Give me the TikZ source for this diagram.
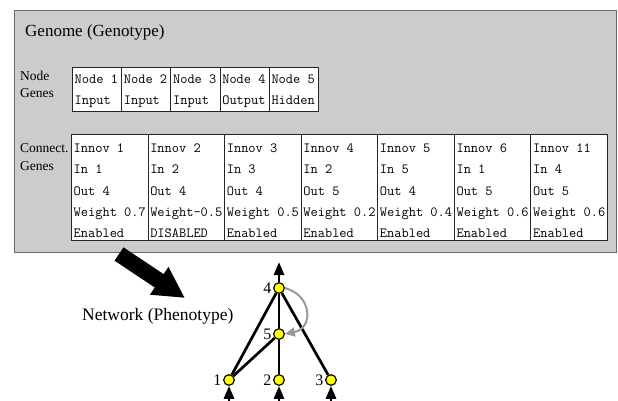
\documentclass[tikz,border=0pt]{standalone}
\usepackage{fontspec}
\setmainfont{Liberation Serif}
\usetikzlibrary{arrows.meta}
\definecolor{boxgray}{HTML}{CCCCCC}
\definecolor{edgegray}{HTML}{6A6A6A}
\definecolor{recgray}{HTML}{999999}
\definecolor{neuronyellow}{HTML}{FFFF00}
\begin{document}
\begin{tikzpicture}[x=1pt,y=-1pt,
  genomebox/.style={draw=edgegray,line width=0.9pt,fill=boxgray,inner sep=0,anchor=north west},
  cellbox/.style={draw=black!85,line width=0.8pt,fill=white,inner sep=0,anchor=north west},
  mono/.style={font=\ttfamily\fontsize{14}{16}\selectfont,inner sep=0,anchor=base west},
  sidelbl/.style={font=\fontsize{13.5}{16}\selectfont,inner sep=0,anchor=base west},
  titletxt/.style={font=\fontsize{17}{20}\selectfont,inner sep=0,anchor=base west},
  nettxt/.style={font=\fontsize{17.5}{20}\selectfont,inner sep=0,anchor=base west},
  neuron/.style={circle,fill=neuronyellow,draw=black,line width=0.8pt,minimum size=11pt,inner sep=0},
  numlbl/.style={font=\fontsize{16}{18}\selectfont,inner sep=0,label distance=1.5pt},
  edge/.style={draw=black,line width=2.7pt},
  tipup/.style={-{Triangle[length=13pt,width=10pt]}},
  recur/.style={draw=recgray,line width=2pt,-{Triangle[length=10pt,width=9pt]}},
  bigarrow/.style={draw=black,line width=16pt,-{Triangle[length=31pt,width=31pt]}}
]
\fill[white] (0,0) rectangle (618,401);
\useasboundingbox (0,0) rectangle (618,401);

% genome container
\node[genomebox,minimum width=602pt,minimum height=242pt] (genome) at (14,10) {};
\node[titletxt] (title) at (25,37) {Genome (Genotype)};

% node genes
\node[sidelbl] (nglbl1) at (20,81) {Node};
\node[sidelbl] (nglbl2) at (20,98) {Genes};
\foreach \a/\b [count=\k] in {Node 1/Input,Node 2/Input,Node 3/Input,Node 4/Output,Node 5/Hidden}{
  \pgfmathsetmacro\xl{72+(\k-1)*49.2}
  \node[cellbox,minimum width=49.2pt,minimum height=44pt] (ng\k) at (\xl,67) {};
  \node[mono] (ng\k-a) at (\xl+2.5,83.5) {\a};
  \node[mono] (ng\k-b) at (\xl+2.5,104.5) {\b};
}

% connection genes
\node[sidelbl] (cglbl1) at (20,153) {Connect.};
\node[sidelbl] (cglbl2) at (20,170) {Genes};
\foreach \a/\b/\c/\d/\e [count=\k] in {Innov 1/In 1/Out 4/Weight 0.7/Enabled,
    Innov 2/In 2/Out 4/Weight-0.5/DISABLED,
    Innov 3/In 3/Out 4/Weight 0.5/Enabled,
    Innov 4/In 2/Out 5/Weight 0.2/Enabled,
    Innov 5/In 5/Out 4/Weight 0.4/Enabled,
    Innov 6/In 1/Out 5/Weight 0.6/Enabled,
    Innov 11/In 4/Out 5/Weight 0.6/Enabled}{
  \pgfmathsetmacro\xl{71+(\k-1)*76.57}
  \node[cellbox,minimum width=76.57pt,minimum height=106pt] (cg\k) at (\xl,134) {};
  \node[mono] (cg\k-a) at (\xl+2.5,152) {\a};
  \node[mono] (cg\k-b) at (\xl+2.5,173.5) {\b};
  \node[mono] (cg\k-c) at (\xl+2.5,195) {\c};
  \node[mono] (cg\k-d) at (\xl+2.5,216.5) {\d};
  \node[mono] (cg\k-e) at (\xl+2.5,237.5) {\e};
}

% big arrow
\coordinate (bigtail) at (119,254);
\coordinate (bigtip) at (185,298);
\draw[bigarrow] (bigtail) -- (bigtip);

\node[nettxt] (net) at (82,320) {Network (Phenotype)};

% network
\node[neuron,label={[numlbl]left:4}] (n4) at (279,288) {};
\node[neuron,label={[numlbl]left:5}] (n5) at (279,334) {};
\node[neuron,label={[numlbl]left:1}] (n1) at (229,380) {};
\node[neuron,label={[numlbl]left:2}] (n2) at (279,380) {};
\node[neuron,label={[numlbl]left:3}] (n3) at (331,380) {};

\coordinate (out) at (279,262);
\coordinate (in1) at (229,404);
\coordinate (in2) at (279,404);
\coordinate (in3) at (331,404);

\draw[edge] (n1) -- (n4);
\draw[edge] (n1) -- (n5);
\draw[edge] (n2) -- (n5);
\draw[edge] (n5) -- (n4);
\draw[edge] (n3) -- (n4);
\draw[edge,tipup] (n4) -- (out);
\draw[edge,tipup] (in1) -- (n1);
\draw[edge,tipup] (in2) -- (n2);
\draw[edge,tipup] (in3) -- (n3);
\draw[recur] (n4.east) .. controls (312,295) and (314,328) .. (n5.east);
% redraw neurons on top of edges
\foreach \n in {n1,n2,n3,n4,n5}{
  \fill[neuronyellow] (\n.center) circle (5.1pt);
  \draw[black,line width=0.8pt] (\n.center) circle (5.1pt);
}
\end{tikzpicture}
\end{document}
